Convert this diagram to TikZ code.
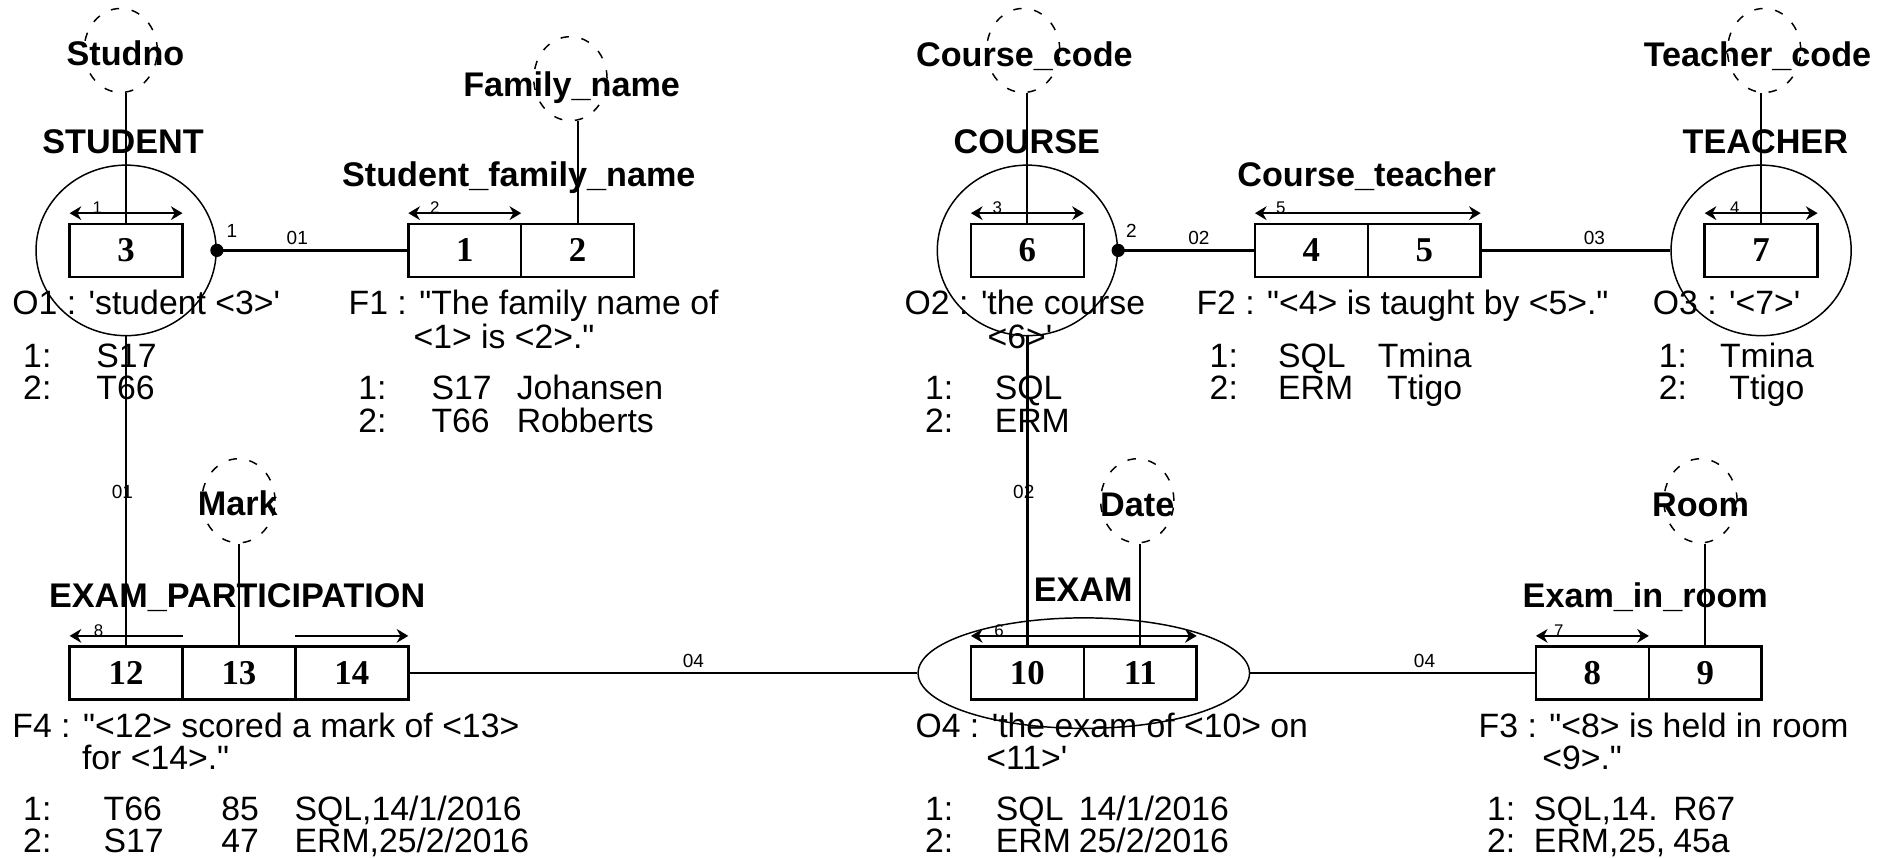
\documentclass[tikz,border=0pt]{standalone}
\usepackage{fontspec}
\setmainfont{Liberation Sans}[Ligatures=TeXOff]
\newfontfamily\cellfont{Liberation Serif}[Ligatures=TeXOff]
\usepackage{tikz}
\usetikzlibrary{shapes.geometric,arrows.meta,positioning}
\tikzstyle{cell}=[rectangle,draw,line width=1.2pt,minimum width=1.88cm,
  minimum height=0.88cm,inner sep=0pt,outer sep=0pt,
  font=\cellfont\bfseries\fontsize{16.5}{18}\selectfont]
\tikzstyle{entity}=[ellipse,draw,line width=0.7pt,minimum width=3cm,
  minimum height=2.84cm,inner sep=0pt]
\tikzstyle{attr}=[ellipse,draw,line width=0.7pt,dash pattern=on 4pt off 6pt,
  minimum width=1.22cm,minimum height=1.4cm,inner sep=0pt]
\tikzstyle{lbl}=[anchor=base,inner sep=0pt,font=\bfseries\fontsize{16.2}{19}\selectfont]
\tikzstyle{txt}=[anchor=base west,inner sep=0pt,font=\fontsize{16}{19}\selectfont]
\tikzstyle{role}=[inner sep=1pt,font=\fontsize{9}{10}\selectfont]
\tikzstyle{unum}=[anchor=base,inner sep=0pt,font=\fontsize{8}{10}\selectfont]
\tikzstyle{link}=[line width=1.1pt]
\tikzstyle{attline}=[line width=0.9pt]
\tikzstyle{ubar}=[line width=1.2pt]

\begin{document}
\begin{tikzpicture}[>={Stealth[length=5.5pt,width=6.5pt]}]
  \useasboundingbox (0,0) rectangle (31.36,-14.28);

  % Boxes, top row
  \node[cell] (c3) at (2.10,-4.17) {3};
  \node[cell] (c1) at (7.74,-4.17) {1};
  \node[cell, right=0pt of c1] (c2) {2};
  \node[cell] (c6) at (17.11,-4.17) {6};
  \node[cell] (c4) at (21.84,-4.17) {4};
  \node[cell, right=0pt of c4] (c5) {5};
  \node[cell] (c7) at (29.33,-4.17) {7};

  % Boxes, bottom row
  \node[cell] (c12) at (2.10,-11.21) {12};
  \node[cell, right=0pt of c12] (c13) {13};
  \node[cell, right=0pt of c13] (c14) {14};
  \node[cell] (c10) at (17.11,-11.21) {10};
  \node[cell, right=0pt of c10] (c11) {11};
  \node[cell] (c8) at (26.52,-11.21) {8};
  \node[cell, right=0pt of c8] (c9) {9};

  % Object types
  \node[entity] (student) at (c3) {};
  \node[entity] (course) at (c6) {};
  \node[entity] (teacher) at (c7) {};
  \node[entity, minimum width=5.52cm, minimum height=1.84cm] (exam) at (c10.east) {};

  % Names
  \node[lbl] (studentT) at (2.05,-2.55) {STUDENT};
  \node[lbl] (sfnT) at (8.64,-3.11) {Student\_family\_name};
  \node[lbl] (courseT) at (17.10,-2.55) {COURSE};
  \node[lbl] (ctT) at (22.76,-3.11) {Course\_teacher};
  \node[lbl] (teacherT) at (29.40,-2.55) {TEACHER};
  \node[lbl] (epT) at (3.95,-10.12) {EXAM\_PARTICIPATION};
  \node[lbl] (examT) at (18.04,-10.02) {EXAM};
  \node[lbl] (eirT) at (27.40,-10.11) {Exam\_in\_room};

  % Value types
  \node[attr] (studno) at (2.01,-0.84) {};
  \node[attr] (famname) at (9.50,-1.31) {};
  \node[attr] (ccode) at (17.04,-0.84) {};
  \node[attr] (tcode) at (29.38,-0.84) {};
  \node[attr] (mark) at (3.97,-8.34) {};
  \node[attr] (date) at (18.94,-8.34) {};
  \node[attr] (room) at (28.32,-8.34) {};
  \node[lbl] (studnoT) at (2.09,-1.09) {Studno};
  \node[lbl] (famnameT) at (9.52,-1.60) {Family\_name};
  \node[lbl] (ccodeT) at (17.06,-1.11) {Course\_code};
  \node[lbl] (tcodeT) at (29.27,-1.11) {Teacher\_code};
  \node[lbl] (markT) at (3.96,-8.59) {Mark};
  \node[lbl] (dateT) at (18.94,-8.61) {Date};
  \node[lbl] (roomT) at (28.32,-8.61) {Room};

  \draw[attline] (c3.north |- studno.south) -- (c3.north);
  \draw[attline] (c2.north |- famname.south) -- (c2.north);
  \draw[attline] (c6.north |- ccode.south) -- (c6.north);
  \draw[attline] (c7.north |- tcode.south) -- (c7.north);
  \draw[attline] (c13.north |- mark.south) -- (c13.north);
  \draw[attline] (c11.north |- date.south) -- (c11.north);
  \draw[attline] (c9.north |- room.south) -- (c9.north);

  % Uniqueness bars
  \draw[ubar,<->] ([yshift=.18cm]c3.north west) -- ([yshift=.18cm]c3.north east);
  \draw[ubar,<->] ([yshift=.18cm]c1.north west) -- ([yshift=.18cm]c1.north east);
  \draw[ubar,<->] ([yshift=.18cm]c6.north west) -- ([yshift=.18cm]c6.north east);
  \draw[ubar,<->] ([yshift=.18cm]c7.north west) -- ([yshift=.18cm]c7.north east);
  \draw[ubar,<->] ([yshift=.18cm]c4.north west) -- ([yshift=.18cm]c5.north east);
  \draw[ubar,<->] ([yshift=.18cm]c10.north west) -- ([yshift=.18cm]c11.north east);
  \draw[ubar,<->] ([yshift=.18cm]c8.north west) -- ([yshift=.18cm]c8.north east);
  \draw[ubar,<-] ([yshift=.18cm]c12.north west) -- ([yshift=.18cm]c12.north east);
  \draw[ubar,->] ([yshift=.18cm]c14.north west) -- ([yshift=.18cm]c14.north east);
  \node[unum] (u1) at ([xshift=.46cm,yshift=.17cm]c3.north west) {1};
  \node[unum] (u2) at ([xshift=.44cm,yshift=.17cm]c1.north west) {2};
  \node[unum] (u3) at ([xshift=.44cm,yshift=.17cm]c6.north west) {3};
  \node[unum] (u4) at ([xshift=.50cm,yshift=.17cm]c7.north west) {4};
  \node[unum] (u5) at ([xshift=.43cm,yshift=.17cm]c4.north west) {5};
  \node[unum] (u6) at ([xshift=.47cm,yshift=.17cm]c10.north west) {6};
  \node[unum] (u7) at ([xshift=.38cm,yshift=.17cm]c8.north west) {7};
  \node[unum] (u8) at ([xshift=.48cm,yshift=.17cm]c12.north west) {8};

  % Roles
  \draw[link] (student.east) -- node[role, above=1pt, pos=.42] (r01) {01} (c1.west);
  \fill (student.east) circle (0.11cm);
  \node[role] (p1) at ([xshift=.25cm,yshift=.33cm]student.east) {1};
  \draw[link] (course.east) -- node[role, above=1pt, pos=.59] (r02) {02} (c4.west);
  \fill (course.east) circle (0.11cm);
  \node[role] (p2) at ([xshift=.22cm,yshift=.32cm]course.east) {2};
  \draw[link] (c5.east) -- node[role, above=1pt, pos=.6] (r03) {03} (teacher.west);
  \draw[link] (c14.east) -- node[role, above=1pt, pos=.56] (r04a) {04} (exam.west);
  \draw[link] (exam.east) -- node[role, above=1pt, pos=.61] (r04b) {04} (c8.west);
  \draw[link] (student.south) -- node[role, pos=.5, xshift=-.06cm] (r01v) {01} (c12.north);
  \draw[link] (course.south) -- node[role, pos=.5, xshift=-.06cm] (r02v) {02} (c10.north);

  % Texts, top row
  \node[txt] (o1) at (0.20,-5.24) {O1 : 'student <3>'};
  \node[txt] (o1a) at (0.38,-6.12) {\makebox[1.22cm][l]{1:}S17};
  \node[txt] (o1b) at (0.38,-6.66) {\makebox[1.22cm][l]{2:}T66};
  \node[txt] (f1) at (5.80,-5.24) {F1 : "The family name of};
  \node[txt] (f1l2) at (6.88,-5.80) {<1> is <2>."};
  \node[txt] (f1a) at (5.96,-6.66) {\makebox[1.22cm][l]{1:}\makebox[1.42cm][l]{S17}Johansen};
  \node[txt] (f1b) at (5.96,-7.20) {\makebox[1.22cm][l]{2:}\makebox[1.42cm][l]{T66}Robberts};
  \node[txt] (o2) at (15.06,-5.24) {O2 : 'the course};
  \node[txt] (o2l2) at (16.44,-5.80) {<6>'};
  \node[txt] (o2a) at (15.40,-6.66) {\makebox[1.16cm][l]{1:}SQL};
  \node[txt] (o2b) at (15.40,-7.20) {\makebox[1.16cm][l]{2:}ERM};
  \node[txt] (f2) at (19.92,-5.24) {F2 : "<4> is taught by <5>."};
  \node[txt] (f2a) at (20.14,-6.12) {\makebox[1.14cm][l]{1:}\makebox[1.4cm][l]{SQL}\makebox[2.08cm][c]{Tmina}};
  \node[txt] (f2b) at (20.14,-6.66) {\makebox[1.14cm][l]{2:}\makebox[1.4cm][l]{ERM}\makebox[2.08cm][c]{Ttigo}};
  \node[txt] (o3) at (27.52,-5.24) {O3 : '<7>'};
  \node[txt] (o3a) at (27.62,-6.12) {\makebox[0.9cm][l]{1:}\makebox[1.8cm][c]{Tmina}};
  \node[txt] (o3b) at (27.62,-6.66) {\makebox[0.9cm][l]{2:}\makebox[1.8cm][c]{Ttigo}};

  % Texts, bottom row
  \node[txt] (f4) at (0.20,-12.28) {F4 : "<12> scored a mark of <13>};
  \node[txt] (f4l2) at (1.36,-12.82) {for <14>."};
  \node[txt] (f4a) at (0.38,-13.66) {\makebox[1.34cm][l]{1:}\makebox[1.96cm][l]{T66}\makebox[1.22cm][l]{85}SQL,14/1/2016};
  \node[txt] (f4b) at (0.38,-14.20) {\makebox[1.34cm][l]{2:}\makebox[1.96cm][l]{S17}\makebox[1.22cm][l]{47}ERM,25/2/2016};
  \node[txt] (o4) at (15.24,-12.28) {O4 : 'the exam of <10> on};
  \node[txt] (o4l2) at (16.42,-12.82) {<11>'};
  \node[txt] (o4a) at (15.40,-13.66) {\makebox[1.18cm][l]{1:}\makebox[1.38cm][l]{SQL}14/1/2016};
  \node[txt] (o4b) at (15.40,-14.20) {\makebox[1.18cm][l]{2:}\makebox[1.38cm][l]{ERM}25/2/2016};
  \node[txt] (f3) at (24.62,-12.28) {F3 : "<8> is held in room};
  \node[txt] (f3l2) at (25.68,-12.82) {<9>."};
  \node[txt] (f3a) at (24.76,-13.66) {\makebox[0.78cm][l]{1:}\makebox[2.32cm][l]{SQL,14.}R67};
  \node[txt] (f3b) at (24.76,-14.20) {\makebox[0.78cm][l]{2:}\makebox[2.32cm][l]{ERM,25,}45a};

\end{tikzpicture}
\end{document}
